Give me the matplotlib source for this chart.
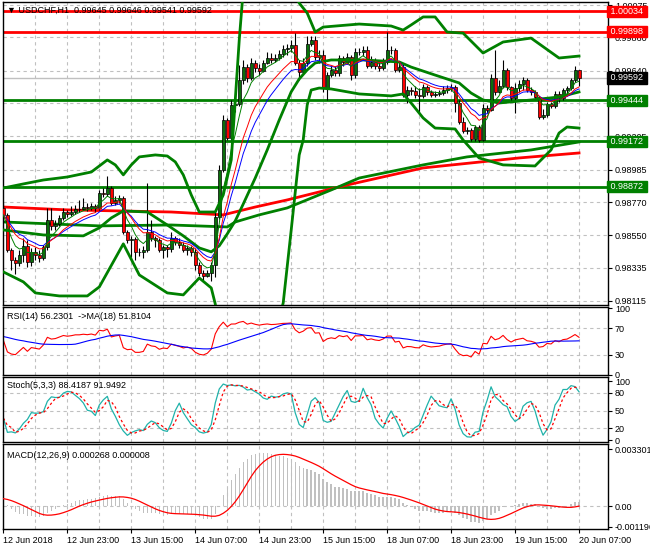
import numpy as np
import pandas as pd
import matplotlib
matplotlib.use("Agg")
import matplotlib.pyplot as plt

plt.rcParams["font.family"] = ["Liberation Sans", "DejaVu Sans"]

# USDCHF H1, 12 Jun 2018 07:00 .. 20 Jun 2018 07:00 (145 bars), open = previous close
open_first = 0.98731
close = [0.98685, 0.98453, 0.98387, 0.98367, 0.98420, 0.98480, 0.98373, 0.98440, 0.98420, 0.98400,
         0.98473, 0.98651, 0.98612, 0.98625, 0.98665, 0.98704, 0.98691, 0.98704, 0.98724, 0.98724,
         0.98737, 0.98731, 0.98744, 0.98731, 0.98830, 0.98823, 0.98863, 0.98764, 0.98784, 0.98797,
         0.98572, 0.98519, 0.98526, 0.98440, 0.98440, 0.98453, 0.98572, 0.98532, 0.98519, 0.98453,
         0.98473, 0.98460, 0.98532, 0.98506, 0.98486, 0.98453, 0.98466, 0.98440, 0.98354, 0.98301,
         0.98281, 0.98301, 0.98354, 0.98671, 0.98982, 0.99313, 0.99194, 0.99413, 0.99419, 0.99578,
         0.99664, 0.99592, 0.99691, 0.99658, 0.99638, 0.99691, 0.99724, 0.99711, 0.99724, 0.99751,
         0.99784, 0.99790, 0.99810, 0.99691, 0.99631, 0.99691, 0.99817, 0.99843, 0.99731, 0.99744,
         0.99525, 0.99611, 0.99645, 0.99625, 0.99724, 0.99698, 0.99731, 0.99611, 0.99764, 0.99764,
         0.99777, 0.99671, 0.99698, 0.99671, 0.99658, 0.99698, 0.99777, 0.99777, 0.99645, 0.99664,
         0.99479, 0.99512, 0.99506, 0.99479, 0.99473, 0.99532, 0.99499, 0.99479, 0.99486, 0.99492,
         0.99512, 0.99525, 0.99532, 0.99426, 0.99300, 0.99241, 0.99247, 0.99188, 0.99267, 0.99181,
         0.99393, 0.99380, 0.99592, 0.99499, 0.99539, 0.99645, 0.99532, 0.99459, 0.99525, 0.99552,
         0.99578, 0.99512, 0.99499, 0.99466, 0.99333, 0.99347, 0.99419, 0.99406, 0.99486, 0.99459,
         0.99512, 0.99525, 0.99578, 0.99645, 0.99592]
high = [0.98764, 0.98698, 0.98466, 0.98407, 0.98453, 0.98532, 0.98519, 0.98466, 0.98473, 0.98453,
        0.98486, 0.98731, 0.98731, 0.98651, 0.98685, 0.98731, 0.98718, 0.98744, 0.98751, 0.98784,
        0.98797, 0.98764, 0.98764, 0.98757, 0.98850, 0.98863, 0.98943, 0.98876, 0.98810, 0.98817,
        0.98810, 0.98585, 0.98546, 0.98539, 0.98466, 0.98480, 0.98896, 0.98651, 0.98546, 0.98532,
        0.98486, 0.98486, 0.98572, 0.98546, 0.98532, 0.98506, 0.98486, 0.98480, 0.98466, 0.98373,
        0.98320, 0.98320, 0.98373, 0.98718, 0.99016, 0.99347, 0.99327, 0.99446, 0.99479, 0.99678,
        0.99711, 0.99684, 0.99724, 0.99711, 0.99684, 0.99711, 0.99764, 0.99757, 0.99751, 0.99777,
        0.99810, 0.99817, 0.99843, 0.99889, 0.99711, 0.99724, 0.99869, 0.99869, 0.99869, 0.99777,
        0.99777, 0.99631, 0.99671, 0.99671, 0.99744, 0.99737, 0.99757, 0.99744, 0.99790, 0.99790,
        0.99804, 0.99804, 0.99737, 0.99724, 0.99698, 0.99724, 0.99896, 0.99804, 0.99790, 0.99698,
        0.99691, 0.99539, 0.99532, 0.99539, 0.99525, 0.99552, 0.99545, 0.99512, 0.99506, 0.99512,
        0.99539, 0.99545, 0.99552, 0.99545, 0.99446, 0.99333, 0.99267, 0.99260, 0.99280, 0.99280,
        0.99419, 0.99413, 0.99618, 0.99777, 0.99578, 0.99711, 0.99658, 0.99539, 0.99559, 0.99578,
        0.99598, 0.99592, 0.99532, 0.99512, 0.99473, 0.99386, 0.99433, 0.99433, 0.99506, 0.99506,
        0.99525, 0.99539, 0.99592, 0.99671, 0.99646]
low = [0.98638, 0.98440, 0.98320, 0.98294, 0.98347, 0.98373, 0.98340, 0.98347, 0.98387, 0.98373,
       0.98387, 0.98453, 0.98585, 0.98585, 0.98612, 0.98651, 0.98671, 0.98678, 0.98691, 0.98704,
       0.98718, 0.98711, 0.98718, 0.98704, 0.98718, 0.98803, 0.98810, 0.98751, 0.98751, 0.98764,
       0.98559, 0.98499, 0.98407, 0.98387, 0.98413, 0.98400, 0.98440, 0.98513, 0.98473, 0.98440,
       0.98400, 0.98407, 0.98440, 0.98486, 0.98466, 0.98440, 0.98420, 0.98413, 0.98320, 0.98281,
       0.98254, 0.98274, 0.98248, 0.98274, 0.98658, 0.98969, 0.99181, 0.99181, 0.99366, 0.99406,
       0.99552, 0.99565, 0.99578, 0.99631, 0.99611, 0.99631, 0.99684, 0.99691, 0.99698, 0.99711,
       0.99731, 0.99744, 0.99764, 0.99678, 0.99578, 0.99618, 0.99671, 0.99804, 0.99711, 0.99691,
       0.99499, 0.99446, 0.99598, 0.99605, 0.99605, 0.99671, 0.99684, 0.99578, 0.99592, 0.99744,
       0.99737, 0.99658, 0.99658, 0.99651, 0.99638, 0.99645, 0.99684, 0.99751, 0.99631, 0.99631,
       0.99466, 0.99426, 0.99479, 0.99459, 0.99360, 0.99459, 0.99479, 0.99466, 0.99466, 0.99473,
       0.99479, 0.99492, 0.99506, 0.99366, 0.99287, 0.99227, 0.99221, 0.99174, 0.99174, 0.99168,
       0.99174, 0.99360, 0.99373, 0.99479, 0.99492, 0.99525, 0.99512, 0.99433, 0.99360, 0.99499,
       0.99512, 0.99499, 0.99479, 0.99446, 0.99320, 0.99320, 0.99333, 0.99393, 0.99393, 0.99433,
       0.99446, 0.99486, 0.99512, 0.99565, 0.99541]

# bollinger bands (bar index, price)
bb_up_x = [0, 5, 10, 16, 22, 26, 28, 30, 32, 34, 38, 41, 43, 45, 47, 49, 53, 55, 57, 58,
           59, 60, 63, 66, 69, 72, 74, 76, 78, 80, 89, 97, 100, 102, 105, 108, 111, 115, 120, 125,
           132, 139, 144]
bb_up = [0.98863, 0.98890, 0.98916, 0.98936, 0.98969, 0.99049, 0.99016, 0.98950, 0.99016, 0.99069,
         0.99082, 0.99075, 0.99036, 0.98950, 0.98817, 0.98704, 0.98704, 0.98817, 0.99049, 0.99446,
         0.99843, 1.00174, 1.00280, 1.00330, 1.00300, 1.00200, 1.00088, 1.00022, 0.99896, 0.99929,
         0.99949, 0.99936, 0.99909, 0.99943, 0.99996, 0.99996, 0.99896, 0.99889, 0.99757, 0.99830,
         0.99856, 0.99724, 0.99737]
bb_mid_x = [0, 10, 20, 24, 27, 30, 36, 41, 45, 49, 52, 54, 56, 58, 60, 63, 66, 69, 72, 74,
            76, 78, 82, 90, 99, 102, 108, 114, 117, 120, 124, 132, 139, 144]
bb_mid = [0.98585, 0.98552, 0.98546, 0.98599, 0.98665, 0.98711, 0.98704, 0.98618, 0.98546, 0.98466,
          0.98440, 0.98480, 0.98559, 0.98645, 0.98757, 0.98929, 0.99115, 0.99313, 0.99500, 0.99585,
          0.99645, 0.99691, 0.99711, 0.99711, 0.99698, 0.99664, 0.99611, 0.99559, 0.99492, 0.99446,
          0.99426, 0.99446, 0.99466, 0.99499]
bb_lo_x = [0, 5, 8, 14, 21, 24, 30, 34, 41, 45, 49, 52, 53, 54, 56, 58, 62, 66, 68, 70,
           72, 74, 75, 76, 77, 79, 82, 89, 97, 100, 102, 105, 108, 113, 115, 119, 125, 133, 137, 139,
           141, 144]
bb_lo = [0.98307, 0.98241, 0.98168, 0.98148, 0.98148, 0.98208, 0.98493, 0.98287, 0.98168, 0.98155,
         0.98267, 0.98201, 0.98095, 0.97950, 0.97800, 0.97700, 0.97650, 0.97720, 0.97900, 0.98102,
         0.98585, 0.99082, 0.99181, 0.99413, 0.99512, 0.99525, 0.99519, 0.99486, 0.99473, 0.99486,
         0.99426, 0.99327, 0.99260, 0.99254, 0.99181, 0.99062, 0.99016, 0.99009, 0.99115, 0.99227,
         0.99267, 0.99260]

# slow moving averages
ma100_x = [0, 24, 42, 56, 58, 64, 71, 82, 89, 105, 116, 132, 144]
ma100 = [0.98638, 0.98612, 0.98618, 0.98605, 0.98638, 0.98685, 0.98731, 0.98850, 0.98929, 0.99016,
         0.99069, 0.99115, 0.99168]
ma200_x = [0, 16, 42, 55, 63, 71, 81, 86, 105, 129, 144]
ma200 = [0.98737, 0.98718, 0.98704, 0.98685, 0.98737, 0.98784, 0.98850, 0.98883, 0.98996, 0.99062,
         0.99095]

red_levels = [1.00034, 0.99898]
green_levels = [0.99444, 0.99172, 0.98872]
last_price = 0.99592

price_ticks = [0.98115, 0.98335, 0.98550, 0.98770, 0.98985, 0.99205, 0.99425, 0.99640, 0.99860, 1.00075]
date_bars = [0, 16, 32, 48, 64, 80, 96, 112, 128, 144]
date_labels = ["12 Jun 2018", "12 Jun 23:00", "13 Jun 15:00", "14 Jun 07:00", "14 Jun 23:00",
               "15 Jun 15:00", "18 Jun 07:00", "18 Jun 23:00", "19 Jun 15:00", "20 Jun 07:00"]

# rough indicator state before the first bar
rsi_gain0, rsi_loss0, rsi_prev = 0.00020, 0.00015, 58.0
ema12_0, ema26_0, signal_prev = 0.98700, 0.98670, 0.00045

c = pd.Series(close)
o = np.array([open_first] + close[:-1])
h = pd.Series(high)
l = pd.Series(low)
x = np.arange(len(close))


def ema(values, n, start):
    a = 2 / (n + 1)
    v = start
    out = []
    for val in values:
        v = v + a * (val - v)
        out.append(v)
    return pd.Series(out)


ma_fast = c.ewm(span=5, adjust=False).mean()
ma_mid = c.ewm(span=10, adjust=False).mean()
ma_slow = c.ewm(span=13, adjust=False).mean()

# rsi 14 (wilder)
d = np.diff(np.r_[open_first, close])
g, ls = rsi_gain0, rsi_loss0
rsi = []
for dd in d:
    g = (g * 13 + max(dd, 0)) / 14
    ls = (ls * 13 + max(-dd, 0)) / 14
    rsi.append(100 - 100 / (1 + g / ls))
rsi_ma = pd.Series([rsi_prev] * 17 + rsi).rolling(18).mean().iloc[17:].values

# stochastic 5,3,3
hh = h.rolling(5, min_periods=1).max()
ll = l.rolling(5, min_periods=1).min()
st_k = (c - ll).rolling(3, min_periods=1).sum() / (hh - ll).rolling(3, min_periods=1).sum() * 100
st_d = st_k.rolling(3, min_periods=1).mean()

# macd 12,26,9
macd = ema(close, 12, ema12_0) - ema(close, 26, ema26_0)
signal = pd.Series([signal_prev] * 8 + list(macd)).rolling(9).mean().iloc[8:].values

W, H = 650, 550
fig = plt.figure(figsize=(6.5, 5.5), dpi=100)


def rect(x0, y0, x1, y1):
    return [x0 / W, 1 - y1 / H, (x1 - x0) / W, (y1 - y0) / H]


ax = fig.add_axes(rect(3, 2, 608, 305))
ax_rsi = fig.add_axes(rect(3, 307, 608, 375))
ax_st = fig.add_axes(rect(3, 377, 608, 442))
ax_macd = fig.add_axes(rect(3, 444, 608, 529))

grid_kw = dict(color="#c0c0c0", lw=0.8, ls=(0, (3, 3)), zorder=0)
fs = 6.5
thick = 2.0

for a in [ax, ax_rsi, ax_st, ax_macd]:
    a.set_xlim(-0.1, 151.25)
    for gx in range(8, 152, 8):
        a.axvline(gx, **grid_kw)
    for s in a.spines.values():
        s.set_color("black")
        s.set_linewidth(1)
    a.yaxis.tick_right()
    a.tick_params(axis="y", labelsize=fs, length=3, pad=2, width=0.8)
    a.tick_params(axis="x", bottom=False, labelbottom=False)

# main chart
ax.set_ylim(0.98088, 1.00095)
ax.set_yticks(price_ticks)
ax.set_yticklabels([f"{p:.5f}" for p in price_ticks])
for p in price_ticks:
    ax.axhline(p, **grid_kw)

ax.axhline(last_price, color="#c0c0c0", lw=1, zorder=1)
for p in red_levels:
    ax.axhline(p, color="#ff0000", lw=thick, zorder=1)
for p in green_levels:
    ax.axhline(p, color="#008000", lw=thick, zorder=1)

up = np.array(close) >= o
body = np.array(close) - o
ax.vlines(x, low, high, color="black", lw=0.8, zorder=3)
ax.bar(x[up], body[up], bottom=o[up], width=0.75, color="#0b6e0b", edgecolor="black", lw=0.5, zorder=4)
ax.bar(x[~up], body[~up], bottom=o[~up], width=0.75, color="#ff0000", edgecolor="black", lw=0.5, zorder=4)

ax.plot(ma200_x, ma200, color="#ff0000", lw=thick, zorder=2)
ax.plot(ma100_x, ma100, color="#008000", lw=thick, zorder=2)
ax.plot(bb_up_x, bb_up, color="#008000", lw=thick, zorder=5)
ax.plot(bb_mid_x, bb_mid, color="#008000", lw=thick, zorder=5)
ax.plot(bb_lo_x, bb_lo, color="#008000", lw=thick, zorder=5)
ax.plot(x, ma_slow, color="#0000ff", lw=0.7, zorder=5)
ax.plot(x, ma_mid, color="#ff0000", lw=0.7, zorder=5)
ax.plot(x, ma_fast, color="#008000", lw=0.7, zorder=5)

tr = ax.get_yaxis_transform()
for p, col in [(red_levels[0], "#ff0000"), (red_levels[1], "#ff0000"), (last_price, "black"),
               (green_levels[0], "#008000"), (green_levels[1], "#008000"), (green_levels[2], "#008000")]:
    ax.text(1.0, p, f" {p:.5f} ", transform=tr, ha="left", va="center", fontsize=fs, color="white",
            bbox=dict(boxstyle="square,pad=0.12", fc=col, ec=col), zorder=20, clip_on=False)

fig.text(7 / W, 1 - 10 / H, "\u25bc USDCHF,H1  0.99645 0.99646 0.99541 0.99592", fontsize=fs,
         va="center", ha="left", color="black", zorder=30)

# rsi
ax_rsi.set_ylim(0, 102)
ax_rsi.set_yticks([0, 30, 70, 100])
ax_rsi.set_yticklabels(["0", "30", "70", "100"])
for lv in [30, 70]:
    ax_rsi.axhline(lv, **grid_kw)
ax_rsi.plot(x, rsi, color="#ff0000", lw=0.8)
ax_rsi.plot(x, rsi_ma, color="#0000ff", lw=0.8)
ax_rsi.text(0.007, 0.86, "RSI(14) 56.2301  ->MA(18) 51.8104", transform=ax_rsi.transAxes,
            fontsize=fs, va="center")

# stochastic
ax_st.set_ylim(-3, 107)
ax_st.set_yticks([0, 20, 50, 80, 100])
ax_st.set_yticklabels(["0", "20", "50", "80", "100"])
for lv in [20, 50, 80]:
    ax_st.axhline(lv, **grid_kw)
ax_st.plot(x, st_k, color="#20b2aa", lw=0.9)
ax_st.plot(x, st_d, color="#ff0000", lw=0.9, ls=(0, (2, 2)))
ax_st.text(0.007, 0.87, "Stoch(5,3,3) 88.4187 91.9492", transform=ax_st.transAxes,
           fontsize=fs, va="center")

# macd
ax_macd.set_ylim(-0.00134, 0.00362)
ax_macd.set_yticks([-0.001196, 0.0, 0.003301])
ax_macd.set_yticklabels(["-0.001196", "0.00", "0.003301"])
ax_macd.axhline(0, **grid_kw)
ax_macd.bar(x, macd, width=0.35, color="#c0c0c0", zorder=2)
ax_macd.plot(x, signal, color="#ff0000", lw=0.9, zorder=3)
ax_macd.text(0.007, 0.87, "MACD(12,26,9) 0.000268 0.000008", transform=ax_macd.transAxes,
             fontsize=fs, va="center")

ax_macd.tick_params(axis="x", bottom=True, labelbottom=True, length=3, width=0.8, labelsize=fs, pad=2)
ax_macd.set_xticks(date_bars)
ax_macd.set_xticklabels(date_labels)
for t in ax_macd.get_xticklabels():
    t.set_horizontalalignment("left")

fig.savefig("out.png", dpi=100, facecolor="white")
